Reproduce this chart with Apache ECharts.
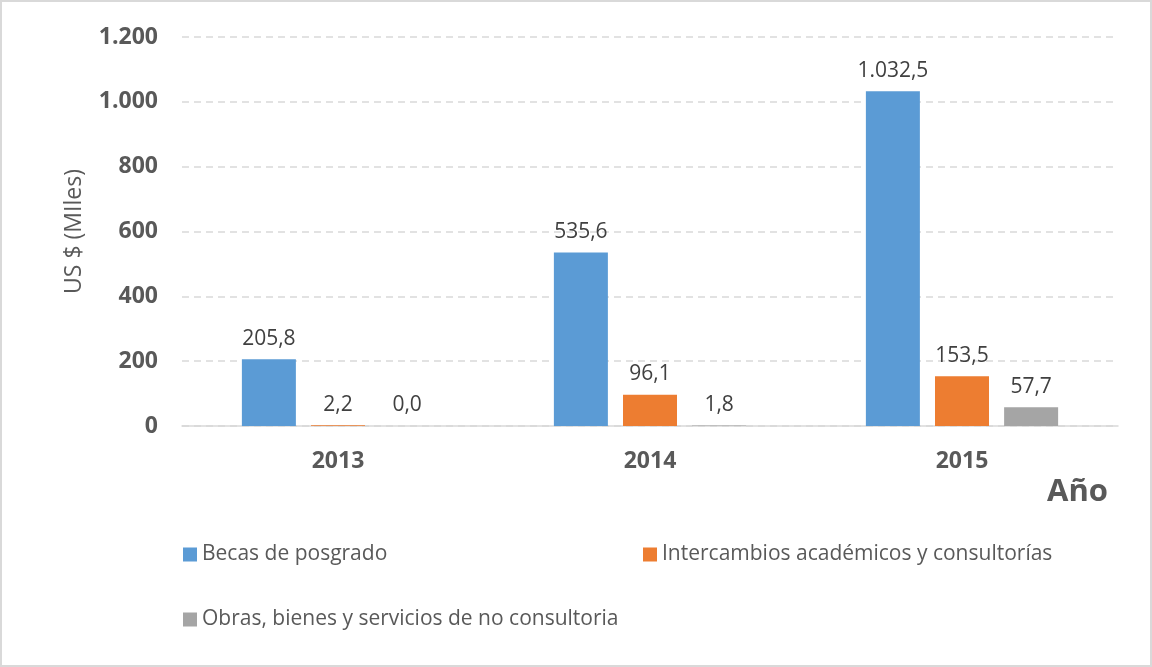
<!DOCTYPE html>
<html><head><meta charset="utf-8">
<script src="https://cdn.jsdelivr.net/npm/echarts@6/dist/echarts.min.js"></script>
<style>html,body{margin:0;padding:0;background:#fff}#c{width:1152px;height:667px;box-sizing:border-box;border:2px solid #d9d9d9}</style>
</head><body><div id="c"></div>
<script>
const categories = ['2013', '2014', '2015'];
const seriesNames = ['Becas de posgrado', 'Intercambios académicos y consultorías', 'Obras, bienes y servicios de no consultoria'];
const becas = [205.8, 535.6, 1032.5];
const intercambios = [2.2, 96.1, 153.5];
const obras = [0.0, 1.8, 57.7];
const yTicks = [0, 200, 400, 600, 800, 1000, 1200];
const colors = ['#5B9BD5', '#ED7D31', '#A5A5A5'];

function fmt(v, dec) {
  const s = v.toFixed(dec);
  const parts = s.split('.');
  const intp = parts[0].replace(/\B(?=(\d{3})+(?!\d))/g, '.');
  return parts.length > 1 ? intp + ',' + parts[1] : intp;
}
const FONT = 'Open Sans';
const chart = echarts.init(document.getElementById('c'));
const mk = (name, data, i) => ({
  name, type: 'bar', data, barWidth: 54, barGap: '28%',
  itemStyle: { color: colors[i] },
  label: { show: true, position: 'top', distance: 10, color: '#404040', fontFamily: FONT, fontSize: 21,
    formatter: p => fmt(p.value, 1) }
});
const legendBase = { orient: 'horizontal', itemWidth: 14, itemHeight: 14, icon: 'rect', itemGap: 6,
  textStyle: { color: '#595959', fontFamily: FONT, fontSize: 21 } };
chart.setOption({
  animation: false,
  grid: { left: 180, right: 32, top: 35, bottom: 239 },
  legend: [
    Object.assign({}, legendBase, { left: 176, top: 537, data: [seriesNames[0]] }),
    Object.assign({}, legendBase, { left: 636, top: 537, data: [seriesNames[1]] }),
    Object.assign({}, legendBase, { left: 176, top: 602, data: [seriesNames[2]] })
  ],
  xAxis: {
    type: 'category', data: categories,
    name: 'Año', nameLocation: 'end', nameGap: 0,
    nameTextStyle: { color: '#595959', fontFamily: FONT, fontSize: 31, fontWeight: 'bold', align: 'right', verticalAlign: 'top', padding: [51, 10, 0, 0] },
    axisLine: { lineStyle: { color: '#d9d9d9', width: 1.5 } },
    axisTick: { show: false },
    axisLabel: { color: '#595959', fontFamily: FONT, fontSize: 23, fontWeight: 'bold', margin: 24 }
  },
  yAxis: {
    type: 'value', min: 0, max: 1200, interval: 200,
    name: 'US $ (MIles)', nameLocation: 'middle', nameGap: 96, nameRotate: 90,
    nameTextStyle: { color: '#595959', fontFamily: FONT, fontSize: 23 },
    axisLine: { show: false }, axisTick: { show: false },
    axisLabel: { color: '#595959', fontFamily: FONT, fontSize: 23, fontWeight: 'bold', margin: 24,
      formatter: v => yTicks.includes(v) ? fmt(v, 0) : '' },
    splitLine: { lineStyle: { color: '#d9d9d9', type: [7, 5], width: 1.5 } }
  },
  series: [mk(seriesNames[0], becas, 0), mk(seriesNames[1], intercambios, 1), mk(seriesNames[2], obras, 2)]
});
</script></body></html>
